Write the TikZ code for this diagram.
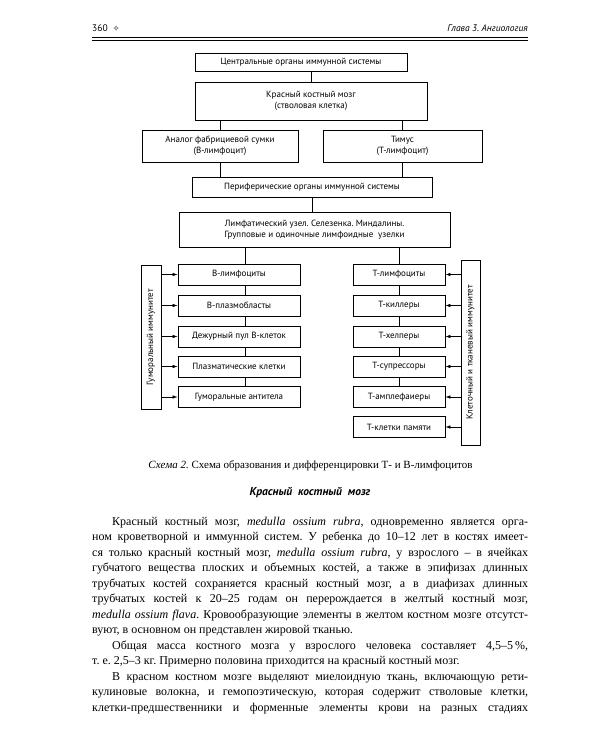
\documentclass[tikz,border=0pt]{standalone}
\usepackage{fontspec}
\setmainfont{Liberation Serif}
\setsansfont{PT Sans}
\newfontfamily\znak{DejaVu Sans}
\usetikzlibrary{arrows.meta}
\frenchspacing

\newcommand{\polnaya}[1]{\makebox[436pt][s]{#1}}
\newcommand{\otstup}[1]{\makebox[416pt][s]{#1}}

\tikzset{
	blok/.style={draw, line width=0.8pt, inner sep=1pt, align=center,
		font=\sffamily\fontsize{9}{11}\selectfont},
	bkl/.style={blok, minimum width=122pt, minimum height=21pt},
	tkl/.style={blok, minimum width=92pt, minimum height=21pt},
	liniya/.style={line width=0.6pt},
	strelka/.style={line width=0.6pt, -{Latex[length=5pt,width=3.5pt]}},
	stroka/.style={anchor=base west, inner sep=0pt, font=\fontsize{12}{15.5}\selectfont},
}

\begin{document}
\begin{tikzpicture}[x=1pt,y=-1pt]

	\useasboundingbox (0,0) rectangle (600,750);

	% Колонтитул
	\node[anchor=base west, inner sep=0pt, font=\sffamily\fontsize{9.5}{11}\selectfont] (nomer) at (92,31) {360 \ {\znak\fontsize{8}{10}\selectfont ✧}};
	\node[anchor=base east, inner sep=0pt, font=\sffamily\itshape\fontsize{9.5}{11}\selectfont] (glava) at (528,31) {Глава 3. Ангиология};
	\draw[line width=1.2pt] (92,37.5) -- (528,37.5);
	\draw[line width=0.4pt] (92,40.5) -- (528,40.5);

	% Центральные органы
	\node[blok, minimum width=212pt, minimum height=18pt] (cent) at (301,62) {Центральные органы иммунной системы};
	\node[blok, minimum width=232pt, minimum height=38pt] (kkm) at (311,101) {Красный костный мозг\\(стволовая клетка)};
	\node[blok, minimum width=156pt, minimum height=32pt] (fabr) at (220,146) {Аналог фабрициевой сумки\\(В-лимфоцит)};
	\node[blok, minimum width=159pt, minimum height=32pt] (timus) at (402.5,146) {Тимус\\(Т-лимфоцит)};

	% Периферические органы
	\node[blok, minimum width=240pt, minimum height=20pt] (perif) at (312,187) {Периферические органы иммунной системы};
	\node[blok, minimum width=271pt, minimum height=35pt] (limf) at (314.5,229.5) {Лимфатический узел. Селезенка. Миндалины.\\Групповые и одиночные лимфоидные \ узелки};

	% В-лимфоциты
	\node[bkl] (b1) at (239,274.5) {В-лимфоциты};
	\node[bkl] (b2) at (239,305.5) {В-плазмобласты};
	\node[bkl] (b3) at (239,336.5) {Дежурный пул В-клеток};
	\node[bkl] (b4) at (239,366.5) {Плазматические клетки};
	\node[bkl] (b5) at (239,397) {Гуморальные антитела};

	% Т-лимфоциты
	\node[tkl] (t1) at (399,274.5) {Т-лимфоциты};
	\node[tkl] (t2) at (399,305.5) {Т-киллеры};
	\node[tkl] (t3) at (399,336.5) {Т-хелперы};
	\node[tkl] (t4) at (399,366.5) {Т-супрессоры};
	\node[tkl] (t5) at (399,397) {Т-амплефаиеры};
	\node[tkl] (t6) at (399,427) {Т-клетки памяти};

	% Иммунитет (повернутые: south справа, north слева)
	\node[blok, rotate=90, minimum width=144pt, minimum height=20pt] (gumor) at (151,337) {Гуморальный иммунитет};
	\node[blok, rotate=90, minimum width=185pt, minimum height=19pt] (kletoch) at (470.5,352.5) {Клеточный и тканевый иммунитет};

	% Связи
	\draw[liniya] (cent.south -| kkm.north) -- (kkm.north);
	\draw[liniya] (kkm.south -| fabr.north) -- (fabr.north);
	\draw[liniya] (kkm.south -| timus.north) -- (timus.north);
	\draw[liniya] (fabr.south) -- (fabr.south |- perif.north);
	\draw[liniya] (timus.south) -- (timus.south |- perif.north);
	\draw[liniya] (perif.south) -- (perif.south |- limf.north);

	\coordinate (vetv) at (245,0);
	\draw[liniya] (limf.south -| vetv) -- (b1.north -| vetv);
	\draw[liniya] (b1.south -| vetv) -- (b2.north -| vetv);
	\draw[liniya] (b2.south -| vetv) -- (b3.north -| vetv);
	\draw[liniya] (b3.south -| vetv) -- (b4.north -| vetv);
	\draw[liniya] (b4.south -| vetv) -- (b5.north -| vetv);

	\draw[liniya] (limf.south -| t1.north) -- (t1.north);
	\draw[liniya] (t1.south) -- (t2.north);
	\draw[liniya] (t2.south) -- (t3.north);
	\draw[liniya] (t3.south) -- (t4.north);
	\draw[liniya] (t4.south) -- (t5.north);

	% Стрелки
	\draw[strelka] (gumor.south |- b1) -- (b1.west);
	\draw[strelka] (gumor.south |- b2) -- (b2.west);
	\draw[strelka] (gumor.south |- b3) -- (b3.west);
	\draw[strelka] (gumor.south |- b4) -- (b4.west);
	\draw[strelka] (gumor.south |- b5) -- (b5.west);

	\draw[strelka] (kletoch.north |- t1) -- (t1.east);
	\draw[strelka] (kletoch.north |- t2) -- (t2.east);
	\draw[strelka] (kletoch.north |- t3) -- (t3.east);
	\draw[strelka] (kletoch.north |- t4) -- (t4.east);
	\draw[strelka] (kletoch.north |- t5) -- (t5.east);
	\draw[strelka] (kletoch.north |- t6) -- (t6.east);

	% Подпись и заголовок
	\node[font=\fontsize{11}{13}\selectfont] (podpis) at (310.5,466) {\textit{Схема 2.} Схема образования и дифференцировки Т- и В-лимфоцитов};
	\node[font=\sffamily\bfseries\itshape\fontsize{11.5}{13}\selectfont] (zagol) at (310,493) {Красный \ костный \ мозг};

	% Текст
	\node[stroka] (s1) at (112,525) {\otstup{Красный костный мозг, \textit{medulla ossium rubra}, одновременно является орга-}};
	\node[stroka] (s2) at (92,540.5) {\polnaya{ном кроветворной и иммунной систем. У ребенка до 10–12 лет в костях имеет-}};
	\node[stroka] (s3) at (92,556) {\polnaya{ся только красный костный мозг, \textit{medulla ossium rubra}, у взрослого – в ячейках}};
	\node[stroka] (s4) at (92,571.5) {\polnaya{губчатого вещества плоских и объемных костей, а также в эпифизах длинных}};
	\node[stroka] (s5) at (92,587) {\polnaya{трубчатых костей сохраняется красный костный мозг, а в диафизах длинных}};
	\node[stroka] (s6) at (92,602.5) {\polnaya{трубчатых костей к 20–25 годам он перерождается в желтый костный мозг,}};
	\node[stroka] (s7) at (92,618) {\polnaya{\textit{medulla ossium flava}. Кровообразующие элементы в желтом костном мозге отсутст-}};
	\node[stroka] (s8) at (92,633.5) {вуют, в основном он представлен жировой тканью.};
	\node[stroka] (s9) at (112,649) {\otstup{Общая масса костного мозга у взрослого человека составляет 4,5–5\,\%,}};
	\node[stroka] (s10) at (92,664.5) {т.~е. 2,5–3 кг. Примерно половина приходится на красный костный мозг.};
	\node[stroka] (s11) at (112,680) {\otstup{В красном костном мозге выделяют миелоидную ткань, включающую рети-}};
	\node[stroka] (s12) at (92,695.5) {\polnaya{кулиновые волокна, и гемопоэтическую, которая содержит стволовые клетки,}};
	\node[stroka] (s13) at (92,711) {\polnaya{клетки-предшественники и форменные элементы крови на разных стадиях}};

\end{tikzpicture}
\end{document}
